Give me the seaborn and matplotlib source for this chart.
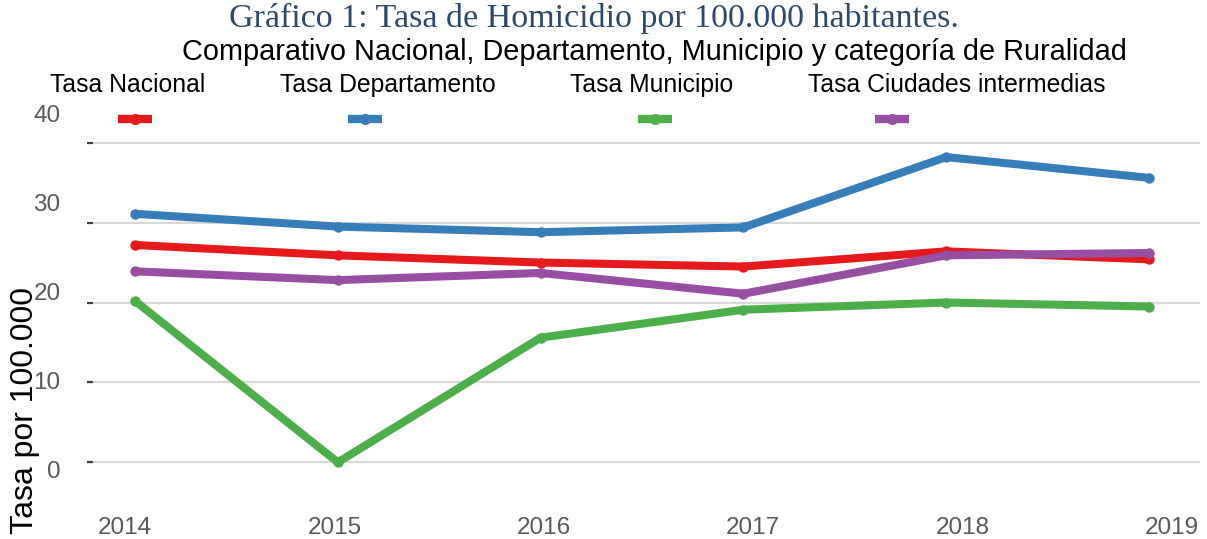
import pandas as pd
import matplotlib.pyplot as plt
import seaborn as sns
from matplotlib.lines import Line2D

years = [2014, 2015, 2016, 2017, 2018, 2019]
tasa_nacional = [27.2, 25.9, 25.0, 24.5, 26.4, 25.4]
tasa_departamento = [31.1, 29.5, 28.8, 29.4, 38.2, 35.6]
tasa_municipio = [20.2, 0.0, 15.6, 19.1, 20.0, 19.5]
tasa_ciudades = [23.9, 22.8, 23.7, 21.1, 25.9, 26.2]

series_names = ["Tasa Nacional", "Tasa Departamento", "Tasa Municipio", "Tasa Ciudades intermedias"]
colors = ["#E41A1C", "#377EB8", "#4DAF4A", "#984EA3"]
y_ticks = [0, 10, 20, 30, 40]

sns.set_theme(style="white")
plt.rcParams["font.family"] = ["Liberation Sans", "DejaVu Sans"]

df = pd.DataFrame({
    "Año": years * 4,
    "Tasa": tasa_nacional + tasa_departamento + tasa_municipio + tasa_ciudades,
    "Serie": [s for s in series_names for _ in years],
})

W, H = 1207, 539
fig = plt.figure(figsize=(W / 100, H / 100), dpi=100)

# main plot area
ax = fig.add_axes([93 / W, (H - 482.3) / H, (1200 - 93) / W, (482.3 - 138.7) / H])
sns.lineplot(data=df, x="Año", y="Tasa", hue="Serie", hue_order=series_names,
             palette=colors, marker="o", markersize=7.5, markeredgewidth=0,
             linewidth=5.8, legend=False, ax=ax)
ax.set_xlim(2013.793, 2019.251)
ax.set_ylim(-2.5, 40.5)
ax.set_yticks(y_ticks)
ax.set_yticklabels([])
ax.set_xticks([])
ax.grid(axis="y", color="#d9d9d9", linewidth=1.6)
ax.set_axisbelow(True)
ax.tick_params(axis="y", left=True, length=4.5, width=1.6, color="#404040", direction="out")
for s in ax.spines.values():
    s.set_visible(False)
ax.set_xlabel("")
ax.set_ylabel("")

# tick labels (placed on their own scale, as in the original)
lab = fig.add_axes([125 / W, (H - 470) / H, (1172 - 125) / W, (470 - 113) / H])
lab.set_xlim(2014, 2019)
lab.set_ylim(0, 40)
lab.set_xticks(years)
lab.set_xticklabels([str(y) for y in years])
lab.set_yticks(y_ticks)
lab.set_yticklabels([str(t) for t in y_ticks])
lab.tick_params(axis="both", length=0, labelsize=17.5, labelcolor="#595959")
lab.tick_params(axis="y", pad=46.5)
lab.tick_params(axis="x", pad=34)
lab.patch.set_visible(False)
for s in lab.spines.values():
    s.set_visible(False)

fig.text(25 / W, 1 - 411 / H, "Tasa por 100.000", rotation=90, ha="center", va="center",
         fontsize=23, color="black")

# titles
fig.text(594 / W, 1 - 18 / H, "Gráfico 1: Tasa de Homicidio por 100.000 habitantes.",
         ha="center", va="center", fontsize=24.5, color="#2d4a6b",
         family=["Liberation Serif", "DejaVu Serif"])
fig.text(654 / W, 1 - 52 / H, "Comparativo Nacional, Departamento, Municipio y categoría de Ruralidad",
         ha="center", va="center", fontsize=20.8, color="black")

# legend: label above, handle below
label_x = [50, 280, 570, 808]
handle_x = [118, 348, 638, 875]
for name, c, lx, hx in zip(series_names, colors, label_x, handle_x):
    fig.text(lx / W, 1 - 85 / H, name, ha="left", va="center", fontsize=17.8, color="black")
    fig.add_artist(Line2D([hx / W, (hx + 17) / W, (hx + 34) / W], [1 - 119 / H] * 3,
                          transform=fig.transFigure, color=c, linewidth=6,
                          marker="o", markersize=8, markeredgewidth=0, markevery=[1],
                          solid_capstyle="butt"))

plt.savefig("out.png", dpi=100)
